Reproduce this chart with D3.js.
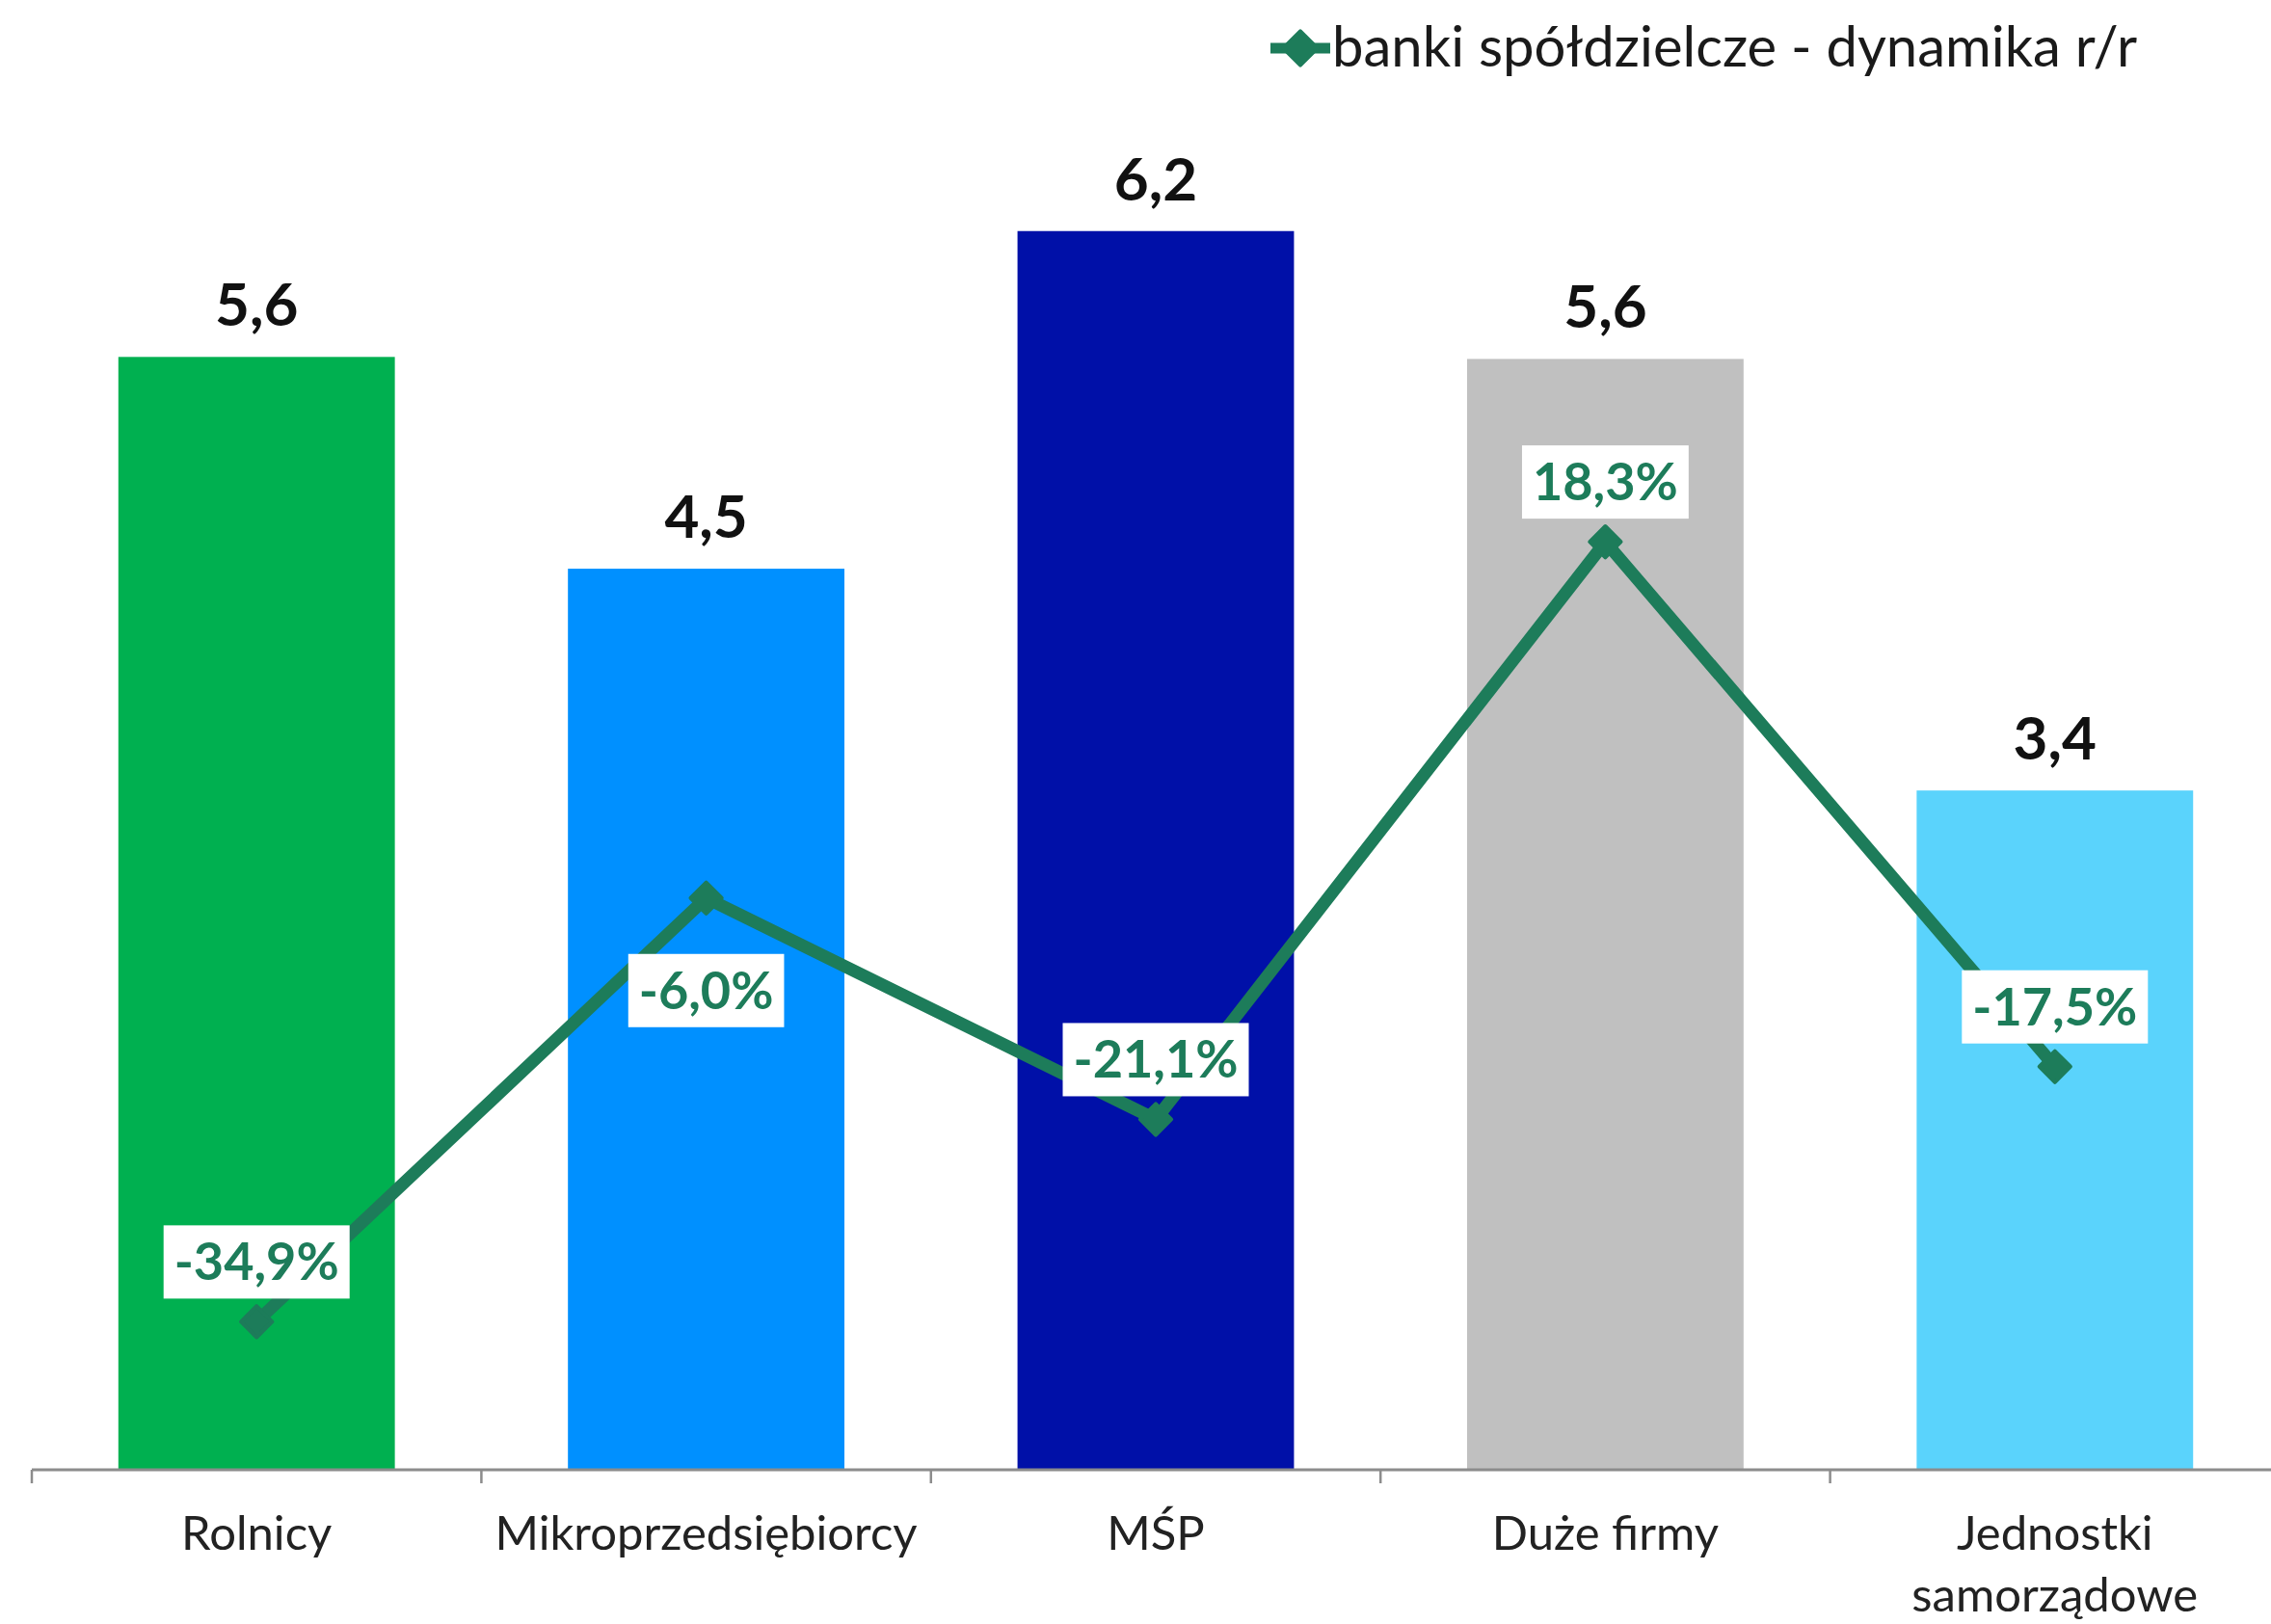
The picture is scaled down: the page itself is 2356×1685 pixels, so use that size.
<!DOCTYPE html>
<html>
<head>
<meta charset="utf-8">
<script src="https://cdn.jsdelivr.net/npm/d3@7"></script>
<style>
  body { margin: 0; background: #fff; }
  svg { display: block; font-family: Lato, "Open Sans", sans-serif; }
</style>
</head>
<body>
<div id="chart"></div>
<script>
// data
const categories = ['Rolnicy', 'Mikroprzedsiębiorcy', 'MŚP', 'Duże firmy', 'Jednostki samorządowe']
const barValues = [5.57, 4.51, 6.2, 5.56, 3.4]
const dynamika = [-34.9, -6.0, -21.1, 18.3, -17.5]
const barColors = ['#00b050', '#0090ff', '#0010a8', '#c0c0c0', '#5ad3fc']
const labelSide = ['above', 'below', 'above', 'above', 'above']
const seriesName = 'banki spółdzielcze - dynamika r/r'

const width = 2356, height = 1685
const lineColor = '#1d7c5a'

let svg = d3.select('#chart').append('svg')
    .attr('width', width)
    .attr('height', height)

let x = d3.scaleBand().domain(categories).range([33, 2365]).paddingInner(0.385).paddingOuter(0.1925)
let xc = d => x(d) + x.bandwidth() / 2
let y = d3.scaleLinear().domain([0, 7]).range([1525, 1525 - 7 * 207.3])
let y2 = d3.scaleLinear().domain([-45, 45]).range([1525, 156])

// bars
svg.selectAll('rect.bar')
    .data(categories)
    .enter()
    .append('rect')
    .attr('class', 'bar')
    .attr('x', d => x(d))
    .attr('width', x.bandwidth())
    .attr('y', (d, i) => y(barValues[i]))
    .attr('height', (d, i) => y(0) - y(barValues[i]))
    .attr('fill', (d, i) => barColors[i])

// bar value labels
let fmt = v => d3.format('.1f')(v).replace('.', ',')
svg.selectAll('text.barval')
    .data(categories)
    .enter()
    .append('text')
    .attr('x', d => xc(d))
    .attr('y', (d, i) => y(barValues[i]) - 32)
    .attr('text-anchor', 'middle')
    .attr('font-size', 62)
    .attr('font-weight', 700)
    .attr('fill', '#111')
    .text((d, i) => fmt(barValues[i]))

// x axis: line + ticks at category boundaries
let axisY = y(0)
let step = x.step()
let bounds = categories.map(d => x(d) - x.paddingOuter() * step)
svg.append('line')
    .attr('x1', bounds[0]).attr('x2', width)
    .attr('y1', axisY).attr('y2', axisY)
    .attr('stroke', '#8c8c8c').attr('stroke-width', 3)
svg.selectAll('line.tick')
    .data(bounds)
    .enter()
    .append('line')
    .attr('x1', d => d).attr('x2', d => d)
    .attr('y1', axisY).attr('y2', axisY + 14)
    .attr('stroke', '#8c8c8c').attr('stroke-width', 2.5)

// category labels (wrap the last one)
categories.forEach(function (c) {
    let lines = c === 'Jednostki samorządowe' ? ['Jednostki', 'samorządowe'] : [c]
    let t = svg.append('text')
        .attr('x', xc(c))
        .attr('y', 1608)
        .attr('text-anchor', 'middle')
        .attr('font-size', 49)
        .attr('fill', '#222')
    lines.forEach((l, k) => {
        t.append('tspan').attr('x', xc(c)).attr('dy', k === 0 ? 0 : 64).text(l)
    })
})

// line series
let line = d3.line()
    .x((d, i) => xc(categories[i]))
    .y(d => y2(d))
svg.append('path')
    .attr('d', line(dynamika))
    .attr('fill', 'none')
    .attr('stroke', lineColor)
    .attr('stroke-width', 13)
    .attr('stroke-linejoin', 'round')

let marker = d3.symbol().type(d3.symbolSquare).size(520)
svg.selectAll('path.pt')
    .data(dynamika)
    .enter()
    .append('path')
    .attr('class', 'pt')
    .attr('d', marker)
    .attr('transform', (d, i) => `translate(${xc(categories[i])},${y2(d)}) rotate(45)`)
    .attr('fill', lineColor)
    .attr('stroke', lineColor)
    .attr('stroke-width', 4)
    .attr('stroke-linejoin', 'round')

// line labels in white boxes
let pctFmt = v => d3.format('.1f')(v).replace('.', ',').replace('−', '-') + '%'
dynamika.forEach(function (v, i) {
    let cx = xc(categories[i])
    let cy = y2(v) + (labelSide[i] === 'above' ? -62 : 96)
    let g = svg.append('g')
    let box = g.append('rect').attr('fill', '#fff')
    let t = g.append('text')
        .attr('x', cx)
        .attr('y', cy + 19)
        .attr('text-anchor', 'middle')
        .attr('font-size', 54)
        .attr('font-weight', 700)
        .attr('fill', lineColor)
        .text(pctFmt(v))
    let bb = t.node().getBBox()
    box.attr('x', cx - bb.width / 2 - 11)
        .attr('width', bb.width + 22)
        .attr('y', cy - 38)
        .attr('height', 76)
})

// legend
let legend = svg.append('g').attr('transform', 'translate(1318,50)')
legend.append('line')
    .attr('x1', 0).attr('x2', 62)
    .attr('y1', 0).attr('y2', 0)
    .attr('stroke', lineColor).attr('stroke-width', 11)
legend.append('path')
    .attr('d', d3.symbol().type(d3.symbolSquare).size(620))
    .attr('transform', 'translate(31,0) rotate(45)')
    .attr('fill', lineColor)
    .attr('stroke', lineColor)
    .attr('stroke-width', 4)
    .attr('stroke-linejoin', 'round')
legend.append('text')
    .attr('x', 64)
    .attr('y', 19)
    .attr('font-size', 58)
    .attr('fill', '#1a1a1a')
    .text(seriesName)
</script>
</body>
</html>
